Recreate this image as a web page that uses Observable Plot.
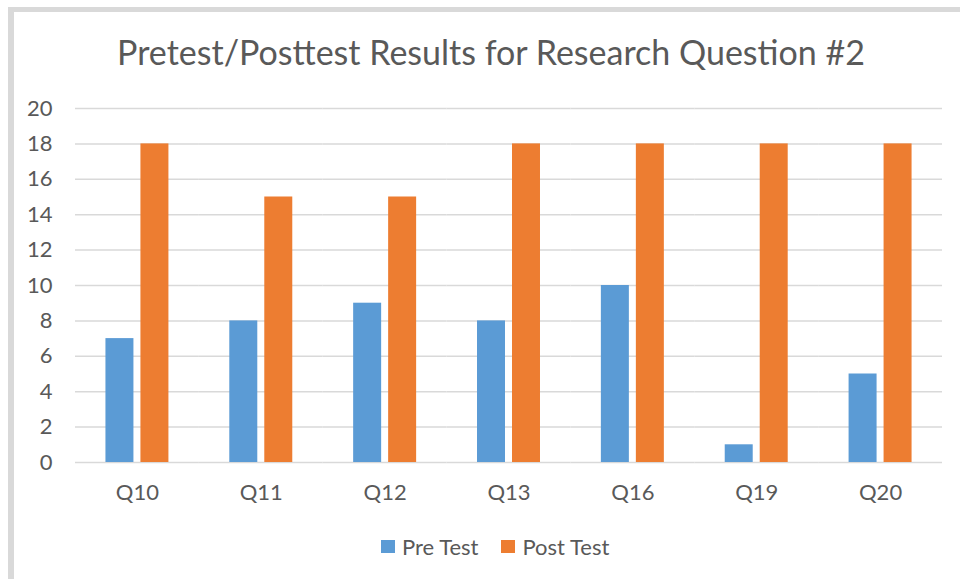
<!DOCTYPE html>
<html>
<head>
<meta charset="utf-8">
<script src="https://cdn.jsdelivr.net/npm/d3@7"></script>
<script src="https://cdn.jsdelivr.net/npm/@observablehq/plot@0.6"></script>
<style>
  html, body { margin: 0; padding: 0; background: #fff; width: 960px; height: 579px; overflow: hidden; }
  body { position: relative; font-family: Lato, "Open Sans", sans-serif; color: #595959; }
  #frame { position: absolute; left: 8px; top: 7px; width: 960px; height: 600px;
           border-left: 6px solid #d9d9d9; border-top: 5px solid #d9d9d9; box-sizing: border-box; }
  #title { position: absolute; left: 0; width: 982px; top: 31px; text-align: center; font-size: 34px; white-space: nowrap; }
  #chart { position: absolute; left: 0; top: 90px; }
  #legend { position: absolute; left: 381px; top: 533px; display: flex; align-items: center; font-size: 22px; white-space: nowrap; }
  .sw { display: inline-block; width: 14px; height: 13px; margin-right: 7px; }
  .item { display: flex; align-items: center; margin-right: 23px; }
</style>
</head>
<body>
<div id="frame"></div>
<div id="title">Pretest/Posttest Results for Research Question #2</div>
<div id="chart"></div>
<div id="legend"></div>
<script>
const categories = ["Q10", "Q11", "Q12", "Q13", "Q16", "Q19", "Q20"];
const seriesNames = ["Pre Test", "Post Test"];
const preTest = [7, 8, 9, 8, 10, 1, 5];
const postTest = [18, 15, 15, 18, 18, 18, 18];
const yTicks = [0, 2, 4, 6, 8, 10, 12, 14, 16, 18, 20];
const colors = ["#5B9BD5", "#ED7D31"];

const data = [];
categories.forEach((c, i) => {
  data.push({q: c, series: seriesNames[0], value: preTest[i]});
  data.push({q: c, series: seriesNames[1], value: postTest[i]});
});

const plot = Plot.plot({
  width: 960,
  height: 430,
  marginLeft: 75,
  marginRight: 18,
  marginTop: 18,
  marginBottom: 58,
  style: {fontFamily: "Lato, 'Open Sans', sans-serif", fontSize: "22px", color: "#595959", background: "transparent"},
  fx: {domain: categories, padding: 0, round: false, label: null, axis: "bottom", tickSize: 0, tickPadding: 22},
  x: {domain: seriesNames, paddingInner: 0.2, paddingOuter: 0.87, round: false, axis: null},
  y: {domain: [0, 20], ticks: yTicks, label: null, tickSize: 0, tickPadding: 23},
  color: {domain: seriesNames, range: colors},
  marks: [
    Plot.ruleY(yTicks, {stroke: "#d9d9d9", strokeWidth: 1.5}),
    Plot.barY(data, {fx: "q", x: "series", y: "value", fill: "series"})
  ]
});
document.getElementById("chart").appendChild(plot);

const legend = d3.select("#legend");
seriesNames.forEach((s, i) => {
  const item = legend.append("div").attr("class", "item");
  item.append("span").attr("class", "sw").style("background", colors[i]);
  item.append("span").text(s);
});
</script>
</body>
</html>
